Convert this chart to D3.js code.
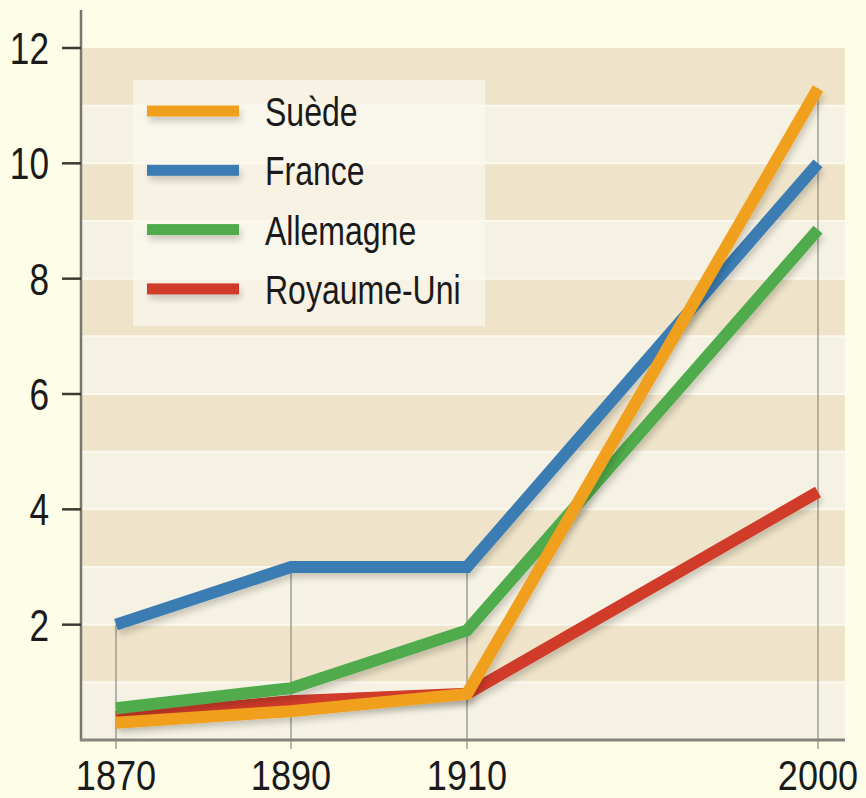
<!DOCTYPE html>
<html>
<head>
<meta charset="utf-8">
<script src="https://cdn.jsdelivr.net/npm/d3@7"></script>
<style>
  body { margin: 0; background: #fdfde8; }
  svg { display: block; }
  text { font-family: "Liberation Sans", sans-serif; fill: #1a1a1a; }
</style>
</head>
<body>
<svg class="svg" width="866" height="798"></svg>
<script>
const years = [1870, 1890, 1910, 2000]
const yTicks = [2, 4, 6, 8, 10, 12]
const seriesNames = ['Suède', 'France', 'Allemagne', 'Royaume-Uni']
const seriesColors = ['#f0a01c', '#3b7db3', '#4fab4b', '#d03a2a']
const suede = [0.3, 0.5, 0.8, 11.3]
const france = [2, 3, 3, 10]
const allemagne = [0.55, 0.9, 1.9, 8.85]
const royaumeUni = [0.4, 0.67, 0.8, 4.3]
const seriesValues = [suede, france, allemagne, royaumeUni]

const svg = d3.select('.svg')
const plotLeft = 81, plotRight = 845, plotTop = 48, plotBottom = 740

const x = d3.scaleLinear().domain(years).range([116, 291, 467, 818])
const y = d3.scaleLinear().domain([0, 12]).range([plotBottom, plotTop])

// drop shadow for lines
const defs = svg.append('defs')
const f = defs.append('filter').attr('id', 'shadow')
  .attr('filterUnits', 'userSpaceOnUse')
  .attr('x', 0).attr('y', 0).attr('width', 866).attr('height', 798)
f.append('feGaussianBlur').attr('in', 'SourceAlpha').attr('stdDeviation', 3)
f.append('feOffset').attr('dx', 2).attr('dy', 5)
f.append('feComponentTransfer').append('feFuncA').attr('type', 'linear').attr('slope', 0.18)
const m = f.append('feMerge')
m.append('feMergeNode')
m.append('feMergeNode').attr('in', 'SourceGraphic')

// stripes, one per unit
const bands = d3.range(0, 12)
svg.selectAll('rect.band').data(bands).enter().append('rect')
  .attr('class', 'band')
  .attr('x', plotLeft)
  .attr('y', d => y(d + 1))
  .attr('width', plotRight - plotLeft)
  .attr('height', d => y(d) - y(d + 1))
  .attr('fill', d => d % 2 === 1 ? '#efe4c9' : '#f6f2e3')

// thin light separators between bands
svg.selectAll('line.sep').data(bands.slice(1)).enter().append('line')
  .attr('x1', plotLeft).attr('x2', plotRight)
  .attr('y1', d => y(d)).attr('y2', d => y(d))
  .attr('stroke', '#fbf8ee').attr('stroke-width', 2)

// vertical guide lines from the highest point down below the axis
svg.selectAll('line.vg').data(years).enter().append('line')
  .attr('x1', d => x(d)).attr('x2', d => x(d))
  .attr('y1', (d, i) => y(d3.max(seriesValues, s => s[i])))
  .attr('y2', plotBottom + 9)
  .attr('stroke', '#8a8a80').attr('stroke-width', 1.2)

// legend box
const lg = svg.append('g')
lg.append('rect').attr('x', 133).attr('y', 80).attr('width', 352).attr('height', 246)
  .attr('fill', '#fbf8ee').attr('opacity', 0.7)
seriesNames.forEach((name, i) => {
  const ly = 111 + i * 59.3
  lg.append('rect').attr('x', 147).attr('y', ly - 5.5).attr('width', 92).attr('height', 11)
    .attr('fill', seriesColors[i]).attr('filter', 'url(#shadow)')
  lg.append('text').attr('transform', `translate(265,${ly + 15}) scale(0.8,1)`)
    .attr('font-size', 40).text(name)
})

// lines
const line = d3.line().x((d, i) => x(years[i])).y(d => y(d))
const order = [3, 2, 1, 0]
svg.selectAll('path.series').data(order).enter().append('path')
  .attr('class', 'series')
  .attr('d', i => line(seriesValues[i]))
  .attr('fill', 'none')
  .attr('stroke', i => seriesColors[i])
  .attr('stroke-width', 12)
  .attr('stroke-linejoin', 'miter')
  .attr('filter', 'url(#shadow)')

// y axis
svg.append('line').attr('x1', plotLeft).attr('x2', plotLeft).attr('y1', 10).attr('y2', plotBottom + 1)
  .attr('stroke', '#77776e').attr('stroke-width', 2.5)
svg.selectAll('line.ytick').data(yTicks).enter().append('line')
  .attr('x1', 62).attr('x2', plotLeft).attr('y1', d => y(d)).attr('y2', d => y(d))
  .attr('stroke', '#3a3a30').attr('stroke-width', 2.5)
svg.selectAll('text.ylab').data(yTicks).enter().append('text')
  .attr('transform', d => `translate(49,${y(d) + 16}) scale(0.8,1)`)
  .attr('text-anchor', 'end').attr('font-size', 44)
  .text(d => d)

// x axis
svg.append('line').attr('x1', plotLeft - 1).attr('x2', plotRight).attr('y1', plotBottom).attr('y2', plotBottom)
  .attr('stroke', '#85857c').attr('stroke-width', 3)
svg.selectAll('text.xlab').data(years).enter().append('text')
  .attr('transform', d => `translate(${x(d)},790) scale(0.86,1)`)
  .attr('text-anchor', 'middle').attr('font-size', 42)
  .text(d => d)
</script>
</body>
</html>
